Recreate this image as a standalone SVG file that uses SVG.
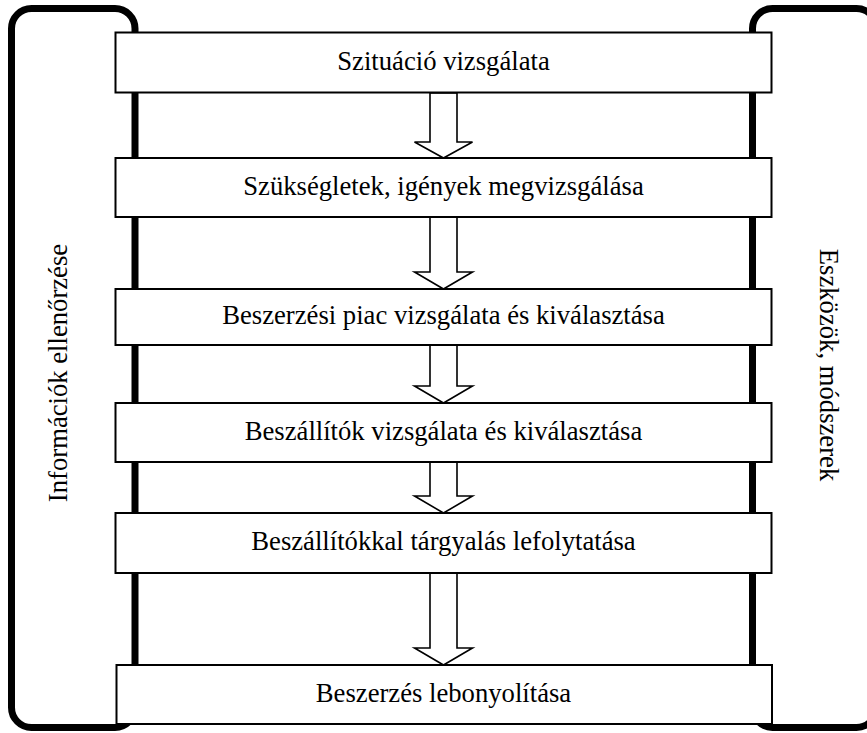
<svg xmlns="http://www.w3.org/2000/svg" width="867" height="733" viewBox="0 0 867 733">
<style>
.bracket{fill:none;stroke:#000;stroke-width:7}
.box rect{fill:#fff;stroke:#000;stroke-width:2}
.arrow{fill:#fff;stroke:#000;stroke-width:1.6;stroke-linejoin:miter}
.t{font-family:'Liberation Serif','DejaVu Serif',serif;font-size:26.67px;fill:#000;text-anchor:middle}
</style>
<rect width="867" height="733" fill="#fff"/>
<g id="side-left">
<rect class="bracket" x="11.5" y="8.5" width="123.5" height="719" rx="20" ry="20"/>
<text class="t" font-family="Liberation Serif, serif" transform="translate(67,373) rotate(-90)">Információk ellenőrzése</text>
</g>
<g id="side-right">
<rect class="bracket" x="752.5" y="8.5" width="124" height="719" rx="20" ry="20"/>
<text class="t" font-family="Liberation Serif, serif" transform="translate(820,365) rotate(90)">Eszközök, módszerek</text>
</g>
<g id="connectors">
<polygon class="arrow" points="430,93 457,93 457,142 472.5,142 443.5,158 414.5,142 430,142"/>
<polygon class="arrow" points="430,217 457,217 457,272 472.5,272 443.5,289 414.5,272 430,272"/>
<polygon class="arrow" points="430,345 457,345 457,386 472.5,386 443.5,403 414.5,386 430,386"/>
<polygon class="arrow" points="430,462 457,462 457,496 472.5,496 443.5,513 414.5,496 430,496"/>
<polygon class="arrow" points="430,573 457,573 457,648 472.5,648 443.5,665 414.5,648 430,648"/>
</g>
<g id="n1" class="box"><rect x="115.5" y="32.5" width="656" height="60"/><text class="t" font-family="Liberation Serif, serif" x="443.5" y="69.5">Szituáció vizsgálata</text></g>
<g id="n2" class="box"><rect x="115.5" y="158" width="656" height="59"/><text class="t" font-family="Liberation Serif, serif" x="443.5" y="194.5">Szükségletek, igények megvizsgálása</text></g>
<g id="n3" class="box"><rect x="115.5" y="289" width="656" height="56"/><text class="t" font-family="Liberation Serif, serif" x="443.5" y="324">Beszerzési piac vizsgálata és kiválasztása</text></g>
<g id="n4" class="box"><rect x="115.5" y="403" width="656" height="59"/><text class="t" font-family="Liberation Serif, serif" x="443.5" y="439.5">Beszállítók vizsgálata és kiválasztása</text></g>
<g id="n5" class="box"><rect x="115.5" y="513" width="656" height="60"/><text class="t" font-family="Liberation Serif, serif" x="443.5" y="550">Beszállítókkal tárgyalás lefolytatása</text></g>
<g id="n6" class="box"><rect x="116.5" y="665" width="655.5" height="59"/><text class="t" font-family="Liberation Serif, serif" x="443.5" y="701.5">Beszerzés lebonyolítása</text></g>
</svg>
